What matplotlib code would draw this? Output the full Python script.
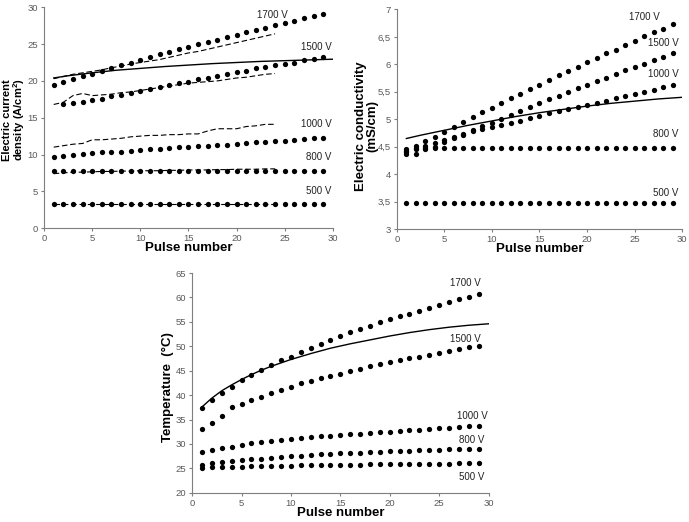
import matplotlib
matplotlib.use('Agg')
import matplotlib.pyplot as plt
from matplotlib.ticker import FuncFormatter

plt.rcParams['font.family'] = ['Liberation Sans', 'DejaVu Sans']

pulses = list(range(1, 30))

# Плотность тока, A/cm2
cur_1700 = [19.4, 19.9, 20.2, 20.6, 21.0, 21.4, 21.7, 22.1, 22.4, 22.8, 23.2, 23.6, 23.9, 24.3, 24.6,
            25.0, 25.3, 25.6, 26.0, 26.3, 26.6, 26.9, 27.2, 27.6, 27.9, 28.2, 28.5, 28.8, 29.1]
cur_1500_x = list(range(2, 30))
cur_1500 = [16.8, 17.0, 17.1, 17.4, 17.6, 17.9, 18.1, 18.4, 18.6, 18.9, 19.2, 19.4, 19.7, 19.9,
            20.2, 20.4, 20.7, 21.0, 21.2, 21.4, 21.7, 21.9, 22.1, 22.3, 22.5, 22.8, 23.0, 23.2]
cur_1000 = [9.7, 9.8, 10.0, 10.1, 10.2, 10.3, 10.35, 10.4, 10.5, 10.6, 10.7, 10.8, 10.9, 11.0, 11.05,
            11.1, 11.2, 11.3, 11.35, 11.45, 11.55, 11.65, 11.75, 11.8, 11.9, 12.0, 12.1, 12.2, 12.3]
cur_800 = [7.7] * 29
cur_500 = [3.3] * 29

# пунктир (x = 1..24)
dash_x = list(range(1, 25))
dash_1700 = [20.3, 20.6, 20.9, 21.1, 21.3, 21.5, 21.8, 22.0, 22.3, 22.5, 22.7, 22.9, 23.2, 23.5,
             23.8, 24.0, 24.3, 24.6, 24.9, 25.2, 25.5, 25.8, 26.1, 26.4]
dash_1500 = [16.8, 17.1, 18.0, 18.3, 18.0, 18.1, 18.2, 18.4, 18.5, 18.7, 18.9, 19.1, 19.3, 19.5,
             19.7, 19.8, 19.9, 20.0, 20.2, 20.4, 20.5, 20.7, 20.9, 21.0]
dash_1000 = [11.0, 11.2, 11.4, 11.5, 12.0, 12.0, 12.1, 12.2, 12.4, 12.5, 12.6, 12.6, 12.7, 12.7,
             12.8, 12.8, 13.2, 13.5, 13.5, 13.5, 13.8, 13.9, 14.1, 14.1]
dash_800 = [7.4, 7.5, 7.6, 7.6, 7.65, 7.7, 7.7, 7.75, 7.75, 7.8, 7.8, 7.8, 7.85, 7.85, 7.9, 7.9,
            7.9, 7.95, 7.95, 8.0, 8.0, 8.0, 8.05, 8.05]
dash_500 = [3.25] * 24
fit_cur_x = [1, 2.5, 5, 7.5, 10, 12.5, 15, 17.5, 20, 22.5, 25, 27.5, 30]
fit_cur = [20.4, 20.7, 21.1, 21.45, 21.7, 21.95, 22.15, 22.35, 22.5, 22.65, 22.75, 22.85, 22.95]

# Электропроводность, mS/cm
cond_1700 = [4.45, 4.52, 4.60, 4.68, 4.77, 4.86, 4.95, 5.04, 5.13, 5.21, 5.29, 5.38, 5.46, 5.55, 5.63,
             5.71, 5.80, 5.88, 5.96, 6.04, 6.12, 6.20, 6.27, 6.35, 6.43, 6.51, 6.58, 6.65, 6.73]
cond_1500 = [4.42, 4.47, 4.52, 4.57, 4.62, 4.67, 4.74, 4.80, 4.87, 4.94, 5.01, 5.08, 5.15, 5.22, 5.29,
             5.36, 5.43, 5.50, 5.57, 5.63, 5.70, 5.76, 5.82, 5.89, 5.95, 6.01, 6.07, 6.14, 6.20]
cond_1000 = [4.37, 4.37, 4.45, 4.50, 4.58, 4.66, 4.72, 4.78, 4.82, 4.86, 4.90, 4.93, 4.97, 5.02, 5.06,
             5.11, 5.15, 5.19, 5.22, 5.26, 5.30, 5.34, 5.38, 5.42, 5.46, 5.50, 5.54, 5.58, 5.62]
cond_800 = [4.40, 4.45, 4.47] + [4.48] * 26
cond_500 = [3.48] * 29
fit_cond_x = [1, 2.5, 5, 7.5, 10, 12.5, 15, 17.5, 20, 22.5, 25, 27.5, 30]
fit_cond = [4.65, 4.71, 4.80, 4.89, 4.97, 5.05, 5.12, 5.18, 5.24, 5.29, 5.33, 5.37, 5.40]

# Температура, °C
temp_1700 = [37.4, 39.0, 40.4, 41.7, 43.0, 44.1, 45.2, 46.2, 47.1, 47.9, 48.9, 49.7, 50.5, 51.3, 52.1,
             52.9, 53.5, 54.2, 54.9, 55.5, 56.1, 56.7, 57.3, 57.9, 58.4, 59.0, 59.6, 60.1, 60.6]
temp_1500 = [33.1, 34.3, 35.8, 37.5, 38.1, 38.9, 39.6, 40.4, 41.1, 41.7, 42.4, 42.9, 43.5, 43.9, 44.4,
             44.9, 45.4, 45.9, 46.3, 46.7, 47.1, 47.5, 47.9, 48.3, 48.6, 49.0, 49.4, 49.8, 50.1]
temp_1000 = [28.3, 28.7, 29.1, 29.4, 29.8, 30.1, 30.3, 30.6, 30.8, 31.0, 31.2, 31.4, 31.6, 31.7, 31.9,
             32.0, 32.1, 32.3, 32.4, 32.5, 32.7, 32.8, 32.9, 33.1, 33.2, 33.3, 33.4, 33.6, 33.6]
temp_800 = [25.7, 26.0, 26.3, 26.5, 26.7, 26.9, 27.0, 27.2, 27.4, 27.5, 27.6, 27.8, 27.9, 28.0, 28.1,
            28.2, 28.2, 28.3, 28.4, 28.5, 28.5, 28.6, 28.7, 28.7, 28.8, 28.9, 28.9, 29.0, 29.0]
temp_500 = [25.1, 25.2, 25.2, 25.3, 25.3, 25.4, 25.4, 25.5, 25.5, 25.5, 25.6, 25.6, 25.6, 25.7, 25.7,
            25.7, 25.7, 25.8, 25.8, 25.8, 25.8, 25.9, 25.9, 25.9, 25.9, 25.9, 26.0, 26.0, 26.0]
fit_temp_x = [1, 2, 3, 4, 5, 6, 7, 8, 9, 10, 12, 14, 16, 18, 20, 22, 24, 26, 28, 30]
fit_temp = [37.6, 39.4, 40.9, 42.1, 43.2, 44.2, 45.1, 45.9, 46.6, 47.3, 48.5, 49.6, 50.5, 51.3,
            52.1, 52.8, 53.4, 53.9, 54.3, 54.6]

voltages = ['1700 V', '1500 V', '1000 V', '800 V', '500 V']

gray = '#7f7f7f'
tick_gray = '#595959'


def style_axes(ax, ylim, yticks):
    ax.set_xlim(0, 30)
    ax.set_ylim(*ylim)
    ax.set_xticks(range(0, 31, 5))
    ax.set_yticks(yticks)
    for s in ['top', 'right']:
        ax.spines[s].set_visible(False)
    for s in ['left', 'bottom']:
        ax.spines[s].set_color(gray)
        ax.spines[s].set_linewidth(0.8)
    ax.tick_params(direction='out', length=2.5, width=0.8, color=gray,
                   labelsize=6.8, labelcolor=tick_gray, pad=2)
    ax.set_xlabel('Pulse number', fontsize=9.5, fontweight='bold', labelpad=-1)


def dots(ax, x, y):
    ax.plot(x, y, 'o', color='black', ms=3.8, mew=0, zorder=3)


def label(ax, x, y, s):
    ax.text(x, y, s, fontsize=7, ha='right', va='center', color='#222222')


fig = plt.figure(figsize=(6.89, 5.22), dpi=100)

# Панель 1
ax1 = fig.add_axes([0.064, 0.563, 0.419, 0.423])
style_axes(ax1, (0, 30), range(0, 31, 5))
for yd in [dash_1700, dash_1500, dash_1000, dash_800, dash_500]:
    ax1.plot(dash_x, yd, color='black', lw=0.8, ls=(0, (5, 2.5)), zorder=2)
ax1.plot(fit_cur_x, fit_cur, color='black', lw=1.0, zorder=2)
dots(ax1, pulses, cur_1700)
dots(ax1, cur_1500_x, cur_1500)
dots(ax1, pulses, cur_1000)
dots(ax1, pulses, cur_800)
dots(ax1, pulses, cur_500)
for x, y, s in zip([25.3, 29.9, 29.9, 29.9, 29.9], [28.9, 24.6, 14.1, 9.6, 5.0], voltages):
    label(ax1, x, y, s)
ax1.set_ylabel('Electric current\ndensity (A/cm$^\\mathregular{2}$)', fontsize=8,
               fontweight='bold', linespacing=0.95)
ax1.yaxis.set_label_coords(-0.058, 0.49)

# Панель 2
ax2 = fig.add_axes([0.576, 0.561, 0.414, 0.421])
style_axes(ax2, (3, 7), [3, 3.5, 4, 4.5, 5, 5.5, 6, 6.5, 7])
ax2.yaxis.set_major_formatter(FuncFormatter(lambda v, p: f'{v:g}'.replace('.', ',')))
ax2.plot(fit_cond_x, fit_cond, color='black', lw=1.0, zorder=2)
for yd in [cond_1700, cond_1500, cond_1000, cond_800, cond_500]:
    dots(ax2, pulses, yd)
for x, y, s in zip([27.7, 29.6, 29.6, 29.6, 29.6], [6.87, 6.38, 5.82, 4.73, 3.65], voltages):
    label(ax2, x, y, s)
ax2.set_ylabel('Electric conductivity\n(mS/cm)', fontsize=9.5, fontweight='bold',
               linespacing=0.9)
ax2.yaxis.set_label_coords(-0.065, 0.47)

# Панель 3
ax3 = fig.add_axes([0.279, 0.056, 0.430, 0.421])
style_axes(ax3, (20, 65), range(20, 66, 5))
ax3.plot(fit_temp_x, fit_temp, color='black', lw=1.0, zorder=2)
for yd in [temp_1700, temp_1500, temp_1000, temp_800, temp_500]:
    dots(ax3, pulses, yd)
for x, y, s in zip([29.2, 29.2, 29.9, 29.6, 29.6], [62.9, 51.5, 35.7, 30.8, 23.3], voltages):
    label(ax3, x, y, s)
ax3.set_ylabel('Temperature  (°C)', fontsize=9.5, fontweight='bold')
ax3.yaxis.set_label_coords(-0.062, 0.48)

fig.savefig('out.png', dpi=100)
